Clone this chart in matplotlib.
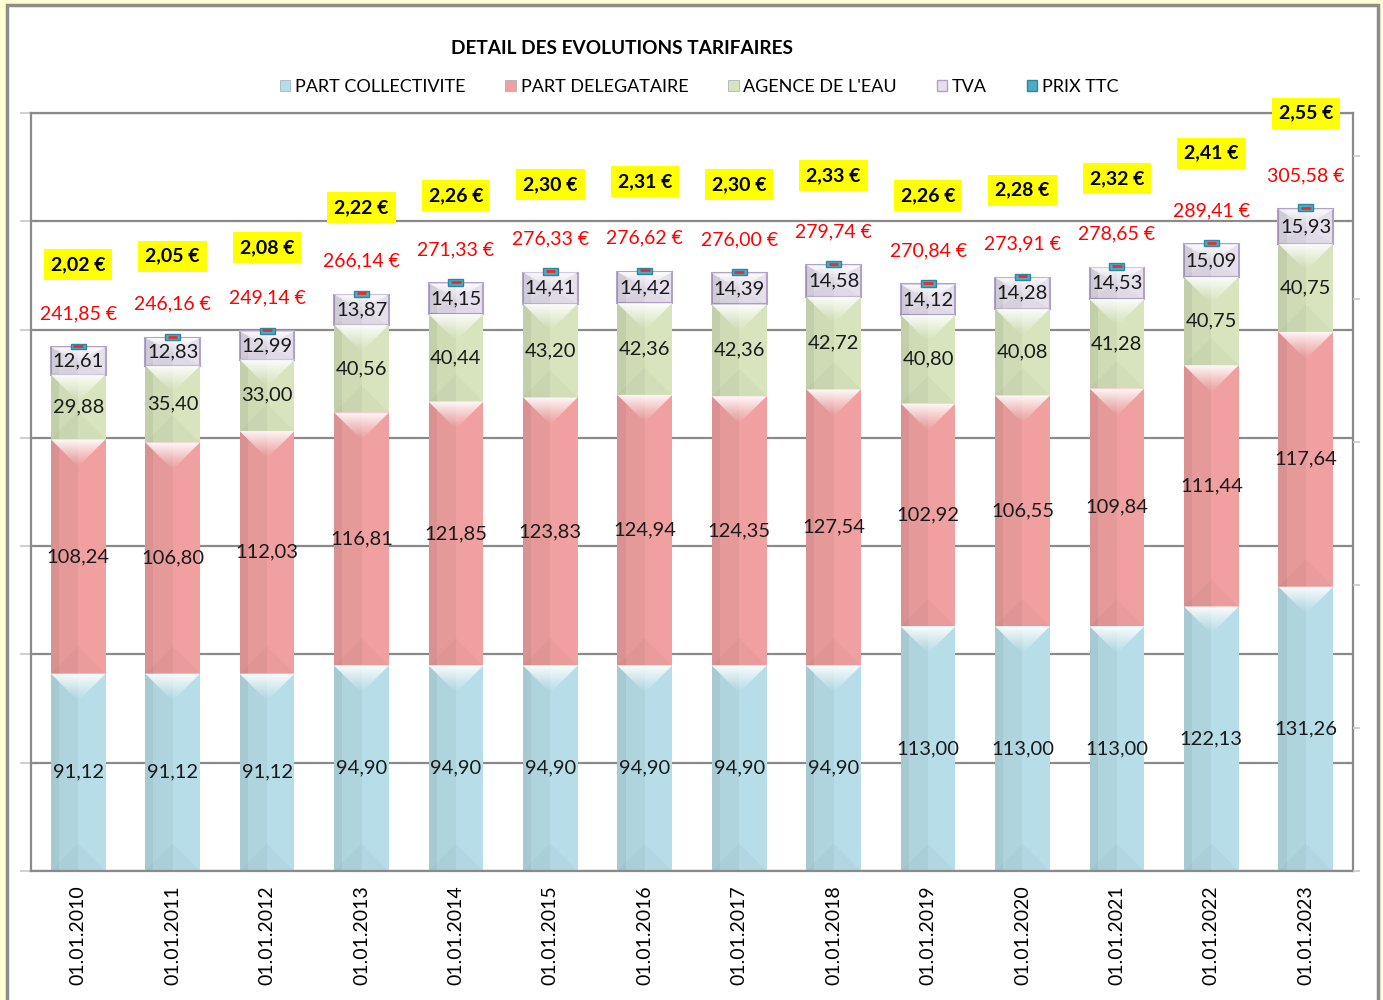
import numpy as np
import matplotlib
matplotlib.use('Agg')
import matplotlib.pyplot as plt
from matplotlib.patches import Rectangle, Polygon, Patch

plt.rcParams['font.family'] = ['Lato', 'DejaVu Sans']

dates = ['01.01.2010', '01.01.2011', '01.01.2012', '01.01.2013', '01.01.2014',
         '01.01.2015', '01.01.2016', '01.01.2017', '01.01.2018', '01.01.2019',
         '01.01.2020', '01.01.2021', '01.01.2022', '01.01.2023']
collectivite = [91.12, 91.12, 91.12, 94.90, 94.90, 94.90, 94.90, 94.90, 94.90,
                113.00, 113.00, 113.00, 122.13, 131.26]
delegataire = [108.24, 106.80, 112.03, 116.81, 121.85, 123.83, 124.94, 124.35,
               127.54, 102.92, 106.55, 109.84, 111.44, 117.64]
agence = [29.88, 35.40, 33.00, 40.56, 40.44, 43.20, 42.36, 42.36, 42.72,
          40.80, 40.08, 41.28, 40.75, 40.75]
tva = [12.61, 12.83, 12.99, 13.87, 14.15, 14.41, 14.42, 14.39, 14.58,
       14.12, 14.28, 14.53, 15.09, 15.93]
totaux = [241.85, 246.16, 249.14, 266.14, 271.33, 276.33, 276.62, 276.00,
          279.74, 270.84, 273.91, 278.65, 289.41, 305.58]
prix_ttc = [2.02, 2.05, 2.08, 2.22, 2.26, 2.30, 2.31, 2.30, 2.33,
            2.26, 2.28, 2.32, 2.41, 2.55]

series = [
    ('PART COLLECTIVITE', collectivite, '#B7DDE8'),
    ('PART DELEGATAIRE', delegataire, '#F0A0A0'),
    ("AGENCE DE L'EAU", agence, '#D7E4BD'),
    ('TVA', tva, '#E5E0EC'),
]

def fr(v):
    return f'{v:.2f}'.replace('.', ',')

W, H = 1383, 1000
fig = plt.figure(figsize=(W / 100, H / 100), dpi=100)
fig.patch.set_facecolor('#FFFFD2')
fig.patches.append(Rectangle((7 / W, -0.01), (1378 - 7) / W, 1.01 - 5 / H,
                             transform=fig.transFigure, facecolor='white',
                             edgecolor='#8C8C8C', lw=2.5, zorder=-5))

ax = fig.add_axes([31 / W, 1 - 871 / H, (1353 - 31) / W, (871 - 113) / H])
ax.set_facecolor('white')
ax.set_yticks(np.arange(0, 351, 50))
ax.set_yticklabels([])
ax.tick_params(axis='y', length=8, color='#C8C8C8', width=1.2, direction='out')
ax.grid(axis='y', color='#8A8A8A', lw=1.6)
ax.set_axisbelow(True)
for s in ax.spines.values():
    s.set_color('#8A8A8A')
    s.set_linewidth(1.6)
ax.set_xticks(range(len(dates)))
ax.set_xticklabels(dates, rotation=90, fontsize=14)
ax.tick_params(axis='x', length=0, pad=10)

ax2 = ax.twinx()
ax2.set_ylim(0, 2.65)
ax2.set_yticks(np.arange(0, 2.51, 0.5))
ax2.set_yticklabels([])
ax2.tick_params(axis='y', length=5, color='#C8C8C8', width=1.2)
for s in ax2.spines.values():
    s.set_visible(False)

bw = 0.58
# bevel depth in data units (45 degree chevrons)
px_x = (1353 - 31) / len(dates)
px_y = (871 - 113) / 350
depth = (bw / 2) * px_x / px_y

grad = np.linspace(1, 0, 64).reshape(-1, 1)
white_img = np.ones((64, 1, 4))
white_img[..., 3] = 0.95 * grad ** 1.2


def bevel_segment(x, bottom, height, color, edge=None):
    x0, x1 = x - bw / 2, x + bw / 2
    top = bottom + height
    ax.add_patch(Rectangle((x0, bottom), bw, height, facecolor=color,
                           edgecolor=edge if edge else 'none',
                           lw=1.5 if edge else 0, zorder=2))
    d = min(depth, height / 2)
    # darker left shading
    ax.add_patch(Rectangle((x0, bottom), bw * 0.5, height, facecolor='black',
                           alpha=0.04, lw=0, zorder=2.1))
    ax.add_patch(Rectangle((x0, bottom), bw * 0.15, height, facecolor='black',
                           alpha=0.05, lw=0, zorder=2.1))
    # bottom subtle chevron
    ax.add_patch(Polygon([(x0, bottom), (x1, bottom), (x, bottom + d)],
                         facecolor='black', alpha=0.025, lw=0, zorder=2.2))
    # top highlight chevron with gradient
    tri = Polygon([(x0, top), (x1, top), (x, top - d)], facecolor='none',
                  lw=0, zorder=2.3)
    ax.add_patch(tri)
    im = ax.imshow(white_img, extent=(x0, x1, top - d, top), aspect='auto',
                   origin='upper', zorder=2.3, interpolation='bilinear')
    im.set_clip_path(tri)


xs = np.arange(len(dates))
bottoms = np.zeros(len(dates))
for name, vals, col in series:
    edge = '#B3A2C7' if name == 'TVA' else None
    for i, v in enumerate(vals):
        bevel_segment(xs[i], bottoms[i], v, col, edge)
        ax.text(xs[i], bottoms[i] + v / 2, fr(v), ha='center', va='center',
                fontsize=14.5, color='#1A1A1A', zorder=5)
    bottoms += np.array(vals)

# imshow resets limits
ax.set_xlim(-0.5, len(dates) - 0.5)
ax.set_ylim(0, 350)

# PRIX TTC tiny stacked segment
for i, p in enumerate(prix_ttc):
    ax.bar(xs[i], p * 1.3, bottom=bottoms[i] - 1.0, width=0.16,
           color='#4BACC6', edgecolor='#31859C', lw=1, zorder=6)
    ax.plot([xs[i] - 0.05, xs[i] + 0.05], [bottoms[i] + 0.3 * p] * 2,
            color='#E03030', lw=2, zorder=7, solid_capstyle='butt')

# totals in red
for i, t in enumerate(totaux):
    ax.text(xs[i], bottoms[i] + 15.5, fr(t) + ' €', ha='center', va='center',
            fontsize=14, color='#FF0000', zorder=6)

# prices (secondary axis) in yellow boxes
for i, p in enumerate(prix_ttc):
    ax2.text(xs[i], p + 0.1, fr(p) + ' €', ha='center', va='center',
             fontsize=14, fontweight='bold', color='black', zorder=8,
             bbox=dict(boxstyle='square,pad=0.36', facecolor='#FFFF00',
                       edgecolor='none'), clip_on=False)

fig.text(622 / W, 1 - 48 / H, 'DETAIL DES EVOLUTIONS TARIFAIRES',
         ha='center', va='center', fontsize=13.7, fontweight='bold')

handles = [Patch(facecolor=c, edgecolor='#9AAAB0', lw=0.5) for _, _, c in series[:3]]
handles.append(Patch(facecolor='#E5E0EC', edgecolor='#B3A2C7', lw=1))
handles.append(Patch(facecolor='#4BACC6', edgecolor='#31859C', lw=1))
labels = [s[0] for s in series] + ['PRIX TTC']
fig.legend(handles, labels, loc='center', bbox_to_anchor=(699 / W, 1 - 87 / H),
           ncol=5, frameon=False, fontsize=13, handlelength=0.6,
           handleheight=0.6, handletextpad=0.25, columnspacing=2.2)

fig.savefig('out.png', dpi=100, facecolor=fig.get_facecolor())
